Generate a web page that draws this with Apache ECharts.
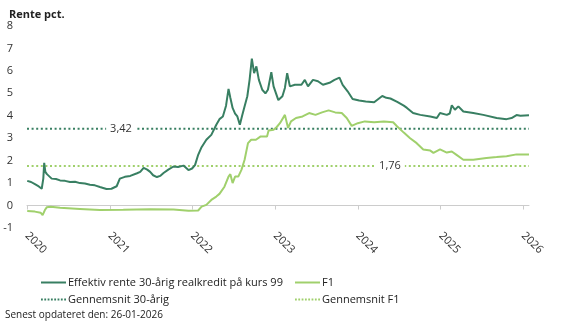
<!DOCTYPE html>
<html><head><meta charset="utf-8">
<script src="https://cdn.jsdelivr.net/npm/echarts@6/dist/echarts.min.js"></script>
<style>html,body{margin:0;padding:0;background:#fff}#c{width:566px;height:325px}</style>
</head><body><div id="c"></div>
<script>
const title = 'Rente pct.';
const footer = 'Senest opdateret den: 26-01-2026';
const yTicks = [-1, 0, 1, 2, 3, 4, 5, 6, 7, 8];
const nameLong = 'Effektiv rente 30-årig realkredit på kurs 99';
const nameF1 = 'F1';
const nameAvgLong = 'Gennemsnit 30-årig';
const nameAvgF1 = 'Gennemsnit F1';
const avgLong = 3.42;
const avgF1 = 1.76;
const startDate = '2020-01-01';
const endDate = '2026-01-26';

const longDates = ['2020-01-02','2020-01-19','2020-02-05','2020-02-22','2020-03-06','2020-03-13','2020-03-17','2020-03-22','2020-03-29','2020-04-19','2020-05-08','2020-05-26','2020-06-17','2020-07-09','2020-07-31','2020-08-22','2020-09-13','2020-10-05','2020-10-27','2020-11-18','2020-12-17','2021-01-08','2021-01-31','2021-02-14','2021-03-08','2021-04-01','2021-05-01','2021-05-15','2021-05-30','2021-06-15','2021-06-28','2021-07-11','2021-07-28','2021-08-11','2021-08-26','2021-09-16','2021-10-09','2021-10-29','2021-11-22','2021-12-14','2021-12-30','2022-01-12','2022-01-26','2022-02-10','2022-03-03','2022-03-25','2022-04-16','2022-04-30','2022-05-15','2022-05-29','2022-06-09','2022-06-17','2022-06-27','2022-07-08','2022-07-18','2022-07-29','2022-08-08','2022-08-17','2022-08-31','2022-09-10','2022-09-20','2022-09-30','2022-10-10','2022-10-21','2022-11-05','2022-11-19','2022-11-30','2022-12-15','2022-12-25','2023-01-15','2023-02-02','2023-02-13','2023-02-23','2023-03-07','2023-03-29','2023-04-27','2023-05-12','2023-05-26','2023-06-17','2023-07-09','2023-07-31','2023-08-29','2023-09-20','2023-10-12','2023-10-26','2023-11-17','2023-12-09','2024-01-07','2024-02-05','2024-03-13','2024-04-18','2024-05-06','2024-05-24','2024-06-23','2024-07-22','2024-08-05','2024-09-01','2024-10-03','2024-11-16','2024-12-15','2024-12-29','2025-01-28','2025-02-10','2025-02-19','2025-03-05','2025-03-20','2025-04-11','2025-05-25','2025-07-08','2025-09-05','2025-10-19','2025-11-10','2025-12-02','2025-12-19','2026-01-26'];
const longValues = [1.1,1.05,0.95,0.85,0.75,1.2,1.9,1.5,1.4,1.2,1.18,1.12,1.1,1.05,1.06,1.0,0.98,0.93,0.9,0.83,0.74,0.75,0.86,1.2,1.28,1.32,1.44,1.5,1.68,1.6,1.5,1.35,1.27,1.32,1.45,1.6,1.74,1.72,1.78,1.58,1.65,1.8,2.26,2.6,2.93,3.15,3.6,3.85,3.97,4.45,5.2,4.8,4.35,4.1,3.97,3.6,4.0,4.35,4.87,5.6,6.55,5.9,6.2,5.6,5.16,5.0,5.16,5.94,5.31,4.7,4.87,5.24,5.9,5.31,5.38,5.38,5.6,5.31,5.6,5.54,5.38,5.47,5.6,5.7,5.38,5.09,4.75,4.68,4.64,4.6,4.88,4.8,4.77,4.62,4.45,4.35,4.12,4.04,3.97,3.9,4.12,4.04,4.1,4.47,4.27,4.42,4.19,4.12,4.04,3.9,3.85,3.9,4.03,4.0,4.02];

const f1Dates = ['2020-01-02','2020-02-05','2020-03-01','2020-03-10','2020-03-20','2020-03-28','2020-04-15','2020-05-26','2020-08-22','2020-11-18','2021-03-01','2021-06-28','2021-10-09','2021-12-14','2022-01-26','2022-02-10','2022-03-03','2022-03-25','2022-04-16','2022-04-30','2022-05-22','2022-06-09','2022-06-17','2022-06-27','2022-07-08','2022-07-22','2022-08-05','2022-08-19','2022-09-03','2022-09-17','2022-10-08','2022-10-29','2022-11-26','2022-12-03','2022-12-25','2023-01-08','2023-01-22','2023-02-13','2023-02-27','2023-03-12','2023-04-03','2023-05-02','2023-05-31','2023-06-28','2023-07-27','2023-08-25','2023-09-23','2023-10-22','2023-11-13','2023-12-05','2024-01-01','2024-02-01','2024-03-13','2024-04-25','2024-06-05','2024-06-23','2024-07-22','2024-08-19','2024-09-17','2024-10-16','2024-11-16','2024-11-30','2024-12-29','2025-01-28','2025-02-19','2025-03-12','2025-04-11','2025-05-25','2025-07-22','2025-09-05','2025-10-19','2025-12-02','2026-01-26'];
const f1Values = [-0.24,-0.27,-0.32,-0.43,-0.2,-0.08,-0.05,-0.1,-0.15,-0.2,-0.19,-0.17,-0.18,-0.23,-0.22,-0.05,0.03,0.25,0.4,0.52,0.84,1.29,1.4,1.0,1.29,1.29,1.59,2.04,2.78,2.93,2.93,3.08,3.08,3.34,3.38,3.5,3.67,4.04,3.46,3.75,3.9,3.97,4.12,4.04,4.15,4.24,4.15,4.12,3.9,3.55,3.67,3.75,3.71,3.75,3.71,3.52,3.25,3.0,2.78,2.5,2.45,2.35,2.5,2.36,2.41,2.26,2.04,2.04,2.12,2.16,2.2,2.28,2.27];

const avgLongLabelDate = '2021-02-19';
const avgF1LabelDate = '2024-05-22';

const DARK = '#387f62';
const LIGHT = '#a0d06c';
const FONT = 'Open Sans';

const zip = (d, v) => d.map((x, i) => [x, v[i]]);

const solidIcon = 'path://M0,0L25,0L25,2L0,2Z';
const dotIcon = 'path://M0,0h1.8v1.8h-1.8Z M3.3,0h1.8v1.8h-1.8Z M6.6,0h1.8v1.8h-1.8Z M9.9,0h1.8v1.8h-1.8Z M13.2,0h1.8v1.8h-1.8Z M16.5,0h1.8v1.8h-1.8Z M19.8,0h1.8v1.8h-1.8Z M23.1,0h1.8v1.8h-1.8Z';

const chart = echarts.init(document.getElementById('c'), null, {renderer: 'canvas'});
const labelStyle = {show: true, color: '#333', fontFamily: FONT, fontSize: 11, backgroundColor: '#fff', padding: [1, 4]};
const legendText = {fontSize: 11, color: '#222', fontFamily: FONT, padding: [0, 0, 0, -3]};
chart.setOption({
  animation: false,
  textStyle: {fontFamily: FONT},
  title: [
    {text: title, left: 4, top: 4, textStyle: {fontSize: 11, fontWeight: 'bold', color: '#222', fontFamily: FONT}},
    {text: footer, left: 0, top: 305, textStyle: {fontSize: 10, fontWeight: 'normal', color: '#222', fontFamily: FONT}}
  ],
  grid: {left: 27, right: 37, top: 26, bottom: 97, containLabel: false},
  xAxis: {
    type: 'time', min: startDate, max: endDate,
    minInterval: 365 * 86400000, maxInterval: 366 * 86400000,
    axisLine: {lineStyle: {color: '#cccccc', width: 1}},
    axisTick: {show: true, length: 4, lineStyle: {color: '#cccccc'}},
    splitLine: {show: false},
    axisLabel: {rotate: -45, fontSize: 11, color: '#333', fontFamily: FONT, formatter: '{yyyy}', margin: 6, showMaxLabel: false, hideOverlap: false}
  },
  yAxis: {
    type: 'value', min: yTicks[0], max: yTicks[yTicks.length - 1], interval: 1,
    axisLine: {show: false}, axisTick: {show: false}, splitLine: {show: false},
    axisLabel: {fontSize: 11, color: '#333', fontFamily: FONT, margin: 14}
  },
  legend: [
    {left: 36, top: 272, orient: 'vertical', itemWidth: 25, itemHeight: 10, itemGap: 6, textStyle: legendText,
     data: [{name: nameLong, icon: solidIcon}, {name: nameAvgLong, icon: dotIcon}]},
    {left: 290, top: 272, orient: 'vertical', itemWidth: 25, itemHeight: 10, itemGap: 6, textStyle: legendText,
     data: [{name: nameF1, icon: solidIcon}, {name: nameAvgF1, icon: dotIcon}]}
  ],
  series: [
    {name: nameAvgLong, type: 'line', symbol: 'none', z: 1,
     data: [[startDate, avgLong], [endDate, avgLong]],
     lineStyle: {color: DARK, width: 2, type: [2, 2.6]}, itemStyle: {color: DARK},
     markPoint: {symbol: 'circle', symbolSize: 0, data: [{coord: [avgLongLabelDate, avgLong], value: '3,42'}],
       label: Object.assign({}, labelStyle, {position: 'inside', formatter: '3,42'})}},
    {name: nameAvgF1, type: 'line', symbol: 'none', z: 1,
     data: [[startDate, avgF1], [endDate, avgF1]],
     lineStyle: {color: LIGHT, width: 2, type: [2, 2.6]}, itemStyle: {color: LIGHT},
     markPoint: {symbol: 'circle', symbolSize: 0, data: [{coord: [avgF1LabelDate, avgF1], value: '1,76'}],
       label: Object.assign({}, labelStyle, {position: 'inside', formatter: '1,76'})}},
    {name: nameF1, type: 'line', symbol: 'none', z: 3,
     data: zip(f1Dates, f1Values),
     lineStyle: {color: LIGHT, width: 2}, itemStyle: {color: LIGHT}},
    {name: nameLong, type: 'line', symbol: 'none', z: 4,
     data: zip(longDates, longValues),
     lineStyle: {color: DARK, width: 2}, itemStyle: {color: DARK}}
  ]
});
</script></body></html>
